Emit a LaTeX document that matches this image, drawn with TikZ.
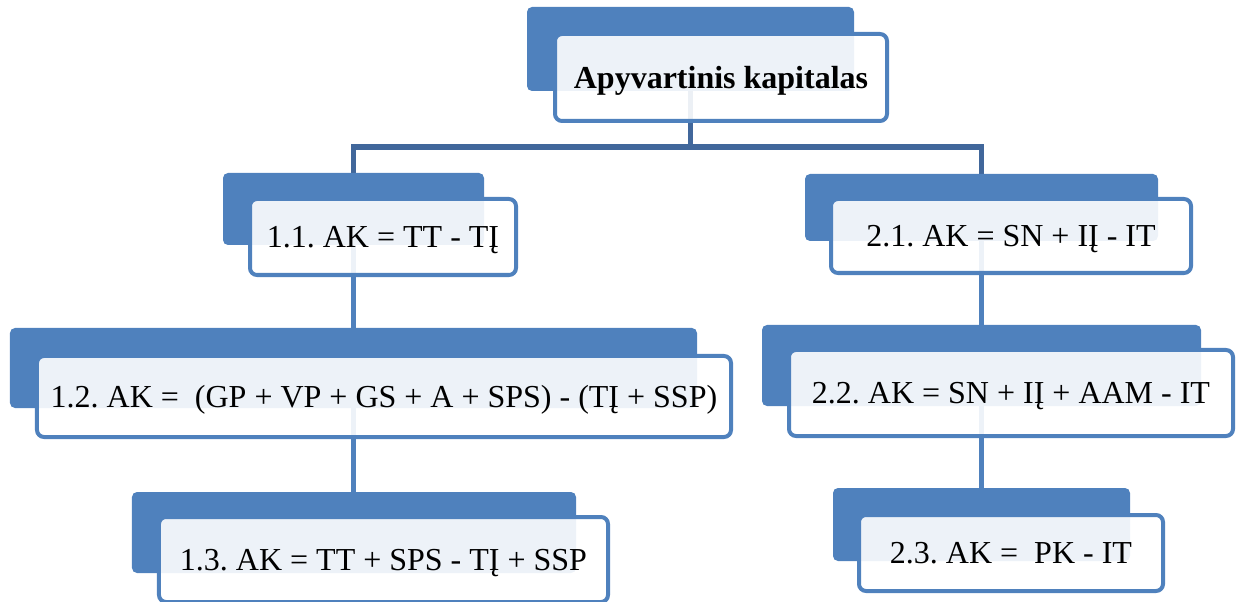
\documentclass[tikz,border=0pt]{standalone}
\usepackage{fontspec}
\setmainfont{Liberation Serif}
\usetikzlibrary{backgrounds}
\definecolor{boxblue}{RGB}{79,129,189}
\definecolor{conndark}{RGB}{65,103,155}
\frenchspacing
\tikzset{
  backbox/.style={fill=boxblue, draw=none, rounded corners=5bp, inner sep=0pt, minimum width=#1},
  frontbox/.style={draw=boxblue, line width=4bp, fill=white, fill opacity=0.9, text opacity=1,
    rounded corners=7bp, inner sep=0pt, text height=21.2bp, text depth=0pt,
    font=\fontsize{32bp}{38bp}\selectfont\frenchspacing, minimum width=#1},
  topconn/.style={draw=conndark, line width=5.5bp},
  subconn/.style={draw=boxblue, line width=5.5bp},
}
\begin{document}
\begin{tikzpicture}[x=1bp,y=-1bp]
\useasboundingbox (0,0) rectangle (1238,602);
% back boxes
\node[backbox=327bp, minimum height=84bp] (btop) at (690.5,49) {};
\node[backbox=261bp, minimum height=72bp] (b11) at (353.5,209) {};
\node[backbox=687bp, minimum height=80bp] (b12) at (353.5,368) {};
\node[backbox=444bp, minimum height=81bp] (b13) at (354,532.5) {};
\node[backbox=353bp, minimum height=67bp] (b21) at (981.5,207.5) {};
\node[backbox=439bp, minimum height=81bp] (b22) at (981.5,365.5) {};
\node[backbox=297bp, minimum height=73bp] (b23) at (981.5,524.5) {};
% front boxes
\node[frontbox=332bp, minimum height=87bp] (ftop) at (721,77.5) {\bfseries Apyvartinis kapitalas};
\node[frontbox=266bp, minimum height=76bp] (f11) at (383,237) {1.1. AK = TT - TĮ};
\node[frontbox=694bp, minimum height=81bp] (f12) at (384,396.5) {1.2. AK = \ (GP + VP + GS + A + SPS) - (TĮ + SSP)};
\node[frontbox=449bp, minimum height=85bp] (f13) at (383.5,559.5) {1.3. AK = TT + SPS - TĮ + SSP};
\node[frontbox=360bp, minimum height=74bp] (f21) at (1011,236) {2.1. AK = SN + IĮ - IT};
\node[frontbox=444bp, minimum height=86bp] (f22) at (1011,393) {2.2. AK = SN + IĮ + AAM - IT};
\node[frontbox=304bp, minimum height=76bp] (f23) at (1011,553) {2.3. AK = \ PK - IT};
% connectors
\begin{pgfonlayer}{background}
\coordinate (bus) at (690.5,147);
\draw[topconn] (btop.center) -- (bus);
\draw[topconn] (b11.north) |- (bus) -| (b21.north);
\draw[subconn] (b11.center) -- (b11.center |- b12.north);
\draw[subconn] (b12.center) -- (b12.center |- b13.north);
\draw[subconn] (b21.center) -- (b21.center |- b22.north);
\draw[subconn] (b22.center) -- (b22.center |- b23.north);
\end{pgfonlayer}
\end{tikzpicture}
\end{document}
